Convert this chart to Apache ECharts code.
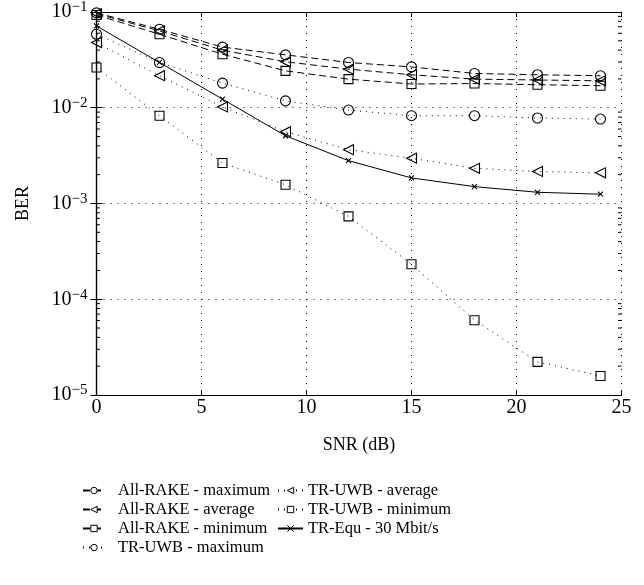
<!DOCTYPE html>
<html>
<head>
<meta charset="utf-8">
<script src="https://cdn.jsdelivr.net/npm/echarts@6/dist/echarts.min.js"></script>
<style>
  html, body { margin: 0; padding: 0; background: #fff; }
  #chart { width: 644px; height: 585px; }
</style>
</head>
<body>
<div id="chart"></div>
<script>
// SNR points (dB)
const snr = [0, 3, 6, 9, 12, 15, 18, 21, 24]

// BER
const rakeMax = [0.098, 0.066, 0.043, 0.0357, 0.0297, 0.0267, 0.0228, 0.0221, 0.0216]
const rakeAvg = [0.096, 0.0634, 0.0399, 0.0302, 0.0253, 0.0221, 0.0199, 0.0195, 0.0191]
const rakeMin = [0.093, 0.0586, 0.0362, 0.0243, 0.0199, 0.0177, 0.0179, 0.0174, 0.0170]
const trMax = [0.0586, 0.0297, 0.0181, 0.0118, 0.00946, 0.00826, 0.00826, 0.00781, 0.00762]
const trAvg = [0.0479, 0.0216, 0.0102, 0.00562, 0.00365, 0.00297, 0.00233, 0.00216, 0.00209]
const trMin = [0.0263, 0.00826, 0.00265, 0.00157, 0.000733, 0.000232, 0.0000604, 0.0000222, 0.0000158]
const trEqu = [0.0715, 0.0297, 0.0123, 0.0051, 0.0028, 0.00185, 0.0015, 0.00131, 0.00125]

const names = [
  'All-RAKE - maximum', 'All-RAKE - average', 'All-RAKE - minimum',
  'TR-UWB - maximum', 'TR-UWB - average', 'TR-UWB - minimum',
  'TR-Equ - 30 Mbit/s'
]

// minor ticks of the log axis (2..9 per decade)
const minorTicks = []
for (let d = -5; d < -1; d++) {
  for (let k = 2; k <= 9; k++) minorTicks.push(k * Math.pow(10, d))
}

const FONT = 'Liberation Serif'
const DASH = [7, 4]
const DOT = [1, 5]
const CROSS = 'path://M0,0L10,10M10,0L0,10'

function pts(ys) {
  return snr.map((x, i) => [x, ys[i]])
}

function lineSeries(name, ys, symbol, dash, opts) {
  return Object.assign({
    name: name,
    type: 'line',
    data: pts(ys),
    symbol: symbol,
    symbolSize: 10,
    showAllSymbol: true,
    lineStyle: { color: '#000', width: 1, type: dash },
    itemStyle: { color: 'rgba(255,255,255,0)', borderColor: '#000', borderWidth: 1.1 },
    emphasis: { disabled: true },
    z: 3
  }, opts || {})
}

const chart = echarts.init(document.getElementById('chart'))

const legendBase = {
  orient: 'vertical',
  itemHeight: 8,
  itemGap: 2,
  itemStyle: { color: '#fff', borderColor: '#000', borderWidth: 1 },
  selectedMode: false
}

const option = {
  animation: false,
  backgroundColor: '#fff',
  grid: { left: 96.5, right: 22.5, top: 11, bottom: 190 },
  legend: [
    Object.assign({}, legendBase, {
      left: 77, top: 477, itemWidth: 22, data: names.slice(0, 4),
      textStyle: { fontFamily: FONT, fontSize: 16.5, color: '#000', padding: [0, 0, 0, 8] }
    }),
    Object.assign({}, legendBase, {
      left: 272, top: 477, itemWidth: 25, data: names.slice(4),
      textStyle: { fontFamily: FONT, fontSize: 16.5, color: '#000' }
    })
  ],
  xAxis: [
    {
      type: 'value', min: 0, max: 25, interval: 5,
      name: 'SNR (dB)', nameLocation: 'middle', nameGap: 41,
      nameTextStyle: { fontFamily: FONT, fontSize: 18, color: '#000' },
      axisLine: { lineStyle: { color: '#000', width: 1.2 } },
      axisTick: { inside: true, length: 5, lineStyle: { color: '#000' } },
      axisLabel: { fontFamily: FONT, fontSize: 20, color: '#000', margin: 3 },
      splitLine: { show: true, lineStyle: { color: '#000', width: 1, type: [1, 6] } }
    },
    {
      type: 'value', min: 0, max: 25, interval: 5, position: 'top',
      axisLine: { show: true, lineStyle: { color: '#000', width: 1.2 } },
      axisTick: { inside: true, length: 5, lineStyle: { color: '#000' } },
      axisLabel: { show: false },
      splitLine: { show: false }
    }
  ],
  yAxis: [
    {
      type: 'log', logBase: 10, min: 1e-5, max: 1e-1,
      name: 'BER', nameLocation: 'middle', nameGap: 64,
      nameTextStyle: { fontFamily: FONT, fontSize: 18, color: '#000' },
      axisLine: { lineStyle: { color: '#000', width: 1.2 } },
      axisTick: { inside: true, length: 6, lineStyle: { color: '#000' } },
      axisLabel: {
        margin: 9,
        formatter: function (v) {
          const e = Math.round(Math.log10(v))
          return '{b|10}{e|\u2212' + Math.abs(e) + '}'
        },
        rich: {
          b: { fontFamily: FONT, fontSize: 20, color: '#000', lineHeight: 24 },
          e: { fontFamily: FONT, fontSize: 15, color: '#000', verticalAlign: 'top', lineHeight: 14 }
        }
      },
      splitLine: { show: true, lineStyle: { color: '#000', width: 1, type: [1, 6] } }
    },
    {
      type: 'log', logBase: 10, min: 1e-5, max: 1e-1, position: 'right',
      axisLine: { show: true, lineStyle: { color: '#000', width: 1.2 } },
      axisTick: { inside: true, length: 6, lineStyle: { color: '#000' } },
      axisLabel: { show: false },
      splitLine: { show: false }
    }
  ],
  series: [
    lineSeries(names[0], rakeMax, 'circle', DASH),
    lineSeries(names[1], rakeAvg, 'triangle', DASH, { symbolRotate: 90 }),
    lineSeries(names[2], rakeMin, 'rect', DASH, { symbolSize: 9 }),
    lineSeries(names[3], trMax, 'circle', DOT),
    lineSeries(names[4], trAvg, 'triangle', DOT, { symbolRotate: 90 }),
    lineSeries(names[5], trMin, 'rect', DOT, { symbolSize: 9 }),
    lineSeries(names[6], trEqu, CROSS, 'solid', { symbolSize: 5 }),
    {
      // minor log ticks on left and right frame
      type: 'custom',
      silent: true,
      data: minorTicks.map(v => [0, v]),
      renderItem: function (params, api) {
        const v = api.value(1)
        const l = api.coord([0, v])
        const r = api.coord([25, v])
        return {
          type: 'group',
          children: [
            { type: 'line', shape: { x1: l[0], y1: l[1], x2: l[0] + 3.5, y2: l[1] }, style: { stroke: '#000', lineWidth: 1 } },
            { type: 'line', shape: { x1: r[0], y1: r[1], x2: r[0] - 3.5, y2: r[1] }, style: { stroke: '#000', lineWidth: 1 } }
          ]
        }
      },
      z: 4
    }
  ]
}

chart.setOption(option)
</script>
</body>
</html>
